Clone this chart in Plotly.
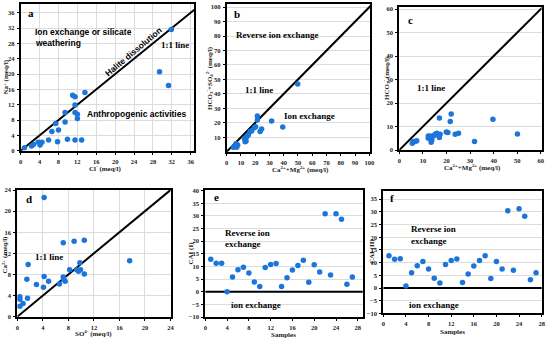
import plotly.graph_objects as go

W, H = 550, 339

# ---------------- data ----------------
a_cl = [0.8, 2.3, 2.7, 3.7, 4.1, 4.5, 5.9, 6.6, 7.4, 8.0, 7.8, 9.4, 9.4, 9.9, 11.0, 11.5, 11.5, 11.5, 12.0, 12.0, 11.5, 12.9, 13.6, 29.4, 31.3, 31.9]
a_na = [0.8, 1.2, 1.65, 2.2, 1.5, 2.2, 2.8, 5.0, 7.1, 5.4, 2.35, 7.5, 10.0, 3.0, 14.5, 14.1, 11.9, 10.0, 9.5, 8.4, 2.8, 2.8, 15.2, 20.6, 17.0, 31.6]

b_cam = [4.7, 5.8, 7.0, 7.7, 6.5, 12.4, 13.6, 12.9, 14.0, 15.2, 16.4, 17.5, 19.4, 20.3, 21.5, 21.5, 23.4, 24.5, 31.5, 39.3, 49.8]
b_hs = [3.0, 3.9, 3.0, 4.6, 5.5, 9.2, 7.4, 6.9, 10.4, 11.5, 13.9, 14.3, 16.6, 17.3, 24.7, 21.9, 13.9, 15.7, 21.2, 17.1, 46.9]

c_cam = [5.5, 5.9, 6.7, 7.4, 12.3, 12.3, 13.3, 13.8, 13.5, 14.5, 15.2, 15.9, 16.3, 17.0, 17.0, 17.3, 19.9, 20.6, 21.6, 22.0, 23.7, 25.1, 31.9, 39.7, 50.1]
c_hco3 = [2.9, 3.6, 3.6, 3.9, 6.0, 5.0, 6.0, 4.3, 3.3, 6.0, 6.7, 7.1, 6.4, 5.3, 13.6, 6.7, 7.7, 7.4, 12.1, 15.3, 6.7, 7.1, 3.6, 13.1, 6.8]

d_so4 = [4.2, 7.2, 8.9, 10.5, 1.7, 17.6, 1.5, 4.2, 4.9, 3.0, 4.1, 6.6, 7.3, 7.5, 7.2, 8.2, 9.3, 9.6, 9.9, 9.8, 10.5, 0.4, 0.4, 1.6, 0.9, 0.4]
d_ca = [22.6, 14.0, 14.3, 14.5, 9.9, 10.6, 7.1, 7.6, 6.7, 6.1, 5.6, 6.2, 7.0, 6.7, 7.5, 8.9, 8.9, 8.6, 8.9, 10.2, 8.1, 3.8, 3.3, 3.5, 2.5, 2.0]

samples = list(range(1, 28))
cai_1 = [12.9, 11.3, 11.3, 0.0, 5.8, 8.7, 9.7, 7.4, 3.9, 2.1, 9.6, 10.8, 11.2, 2.1, 5.5, 8.6, 10.4, 12.5, 3.8, 10.7, 7.8, 30.9, 6.6, 30.9, 28.7, 3.0, 5.8]
cai_2 = [12.7, 11.3, 11.5, 0.8, 6.0, 8.8, 10.4, 7.5, 3.8, 2.0, 9.3, 10.8, 11.4, 2.2, 5.5, 8.7, 10.8, 12.7, 3.7, 10.4, 7.5, 30.4, 7.0, 31.2, 28.3, 3.3, 6.0]

one_to_one = [0, 110]
zero_line_x = [0, 30]
zero_line_y = [0, 0]

# ---------------- layout helpers ----------------
MARK = dict(color="rgb(28,118,218)", size=5.5)
SERIF = "Liberation Serif"
SANS = "Liberation Sans"

def px(x):
    return x / W

def py(y):
    return 1 - y / H

panels = {
    "a": dict(px=(20.7, 194), py=(4.3, 150.7), xr=[0, 36.7], yr=[0, 38.2], xt=4, yt=4, x0t=0, y0t=0, vgrid=True),
    "b": dict(px=(226.7, 370), py=(4.3, 151.7), xr=[0, 100.5], yr=[0, 102], xt=10, yt=10, x0t=0, y0t=10, vgrid=False),
    "c": dict(px=(399.3, 541.5), py=(6.7, 150), xr=[0, 60.3], yr=[0, 61], xt=10, yt=10, x0t=0, y0t=0, vgrid=False),
    "d": dict(px=(17.3, 170.5), py=(190, 316.7), xr=[0, 24], yr=[0, 24], xt=4, yt=4, x0t=0, y0t=0, vgrid=True),
    "e": dict(px=(205.3, 362.7), py=(190.4, 317), xr=[0, 28.9], yr=[-10, 40.1], xt=4, yt=5, x0t=0, y0t=-10, vgrid=False),
    "f": dict(px=(383.3, 541.7), py=(191, 313.4), xr=[0, 28.0], yr=[-10, 38.2], xt=4, yt=5, x0t=0, y0t=-10, vgrid=False),
}

fig = go.Figure()
layout = dict(
    width=W, height=H, margin=dict(l=0, r=0, t=0, b=0, autoexpand=False),
    paper_bgcolor="white", plot_bgcolor="white", showlegend=False,
)

tickfont = dict(family=SERIF, size=6.5, color="#222", weight="bold")
for i, (key, p) in enumerate(panels.items(), start=1):
    xa = "xaxis" if i == 1 else f"xaxis{i}"
    ya = "yaxis" if i == 1 else f"yaxis{i}"
    common = dict(showline=True, linecolor="black", linewidth=2, mirror=True,
                  ticks="outside", ticklen=2, tickcolor="black", tickwidth=1,
                  tickfont=tickfont, zeroline=False, gridcolor="#dcdcdc", gridwidth=1,
                  automargin=False)
    layout[xa] = dict(common, domain=[px(p["px"][0]), px(p["px"][1])], range=p["xr"],
                      anchor=f"y{i if i > 1 else ''}", tick0=p["x0t"], dtick=p["xt"],
                      showgrid=p["vgrid"], ticklabelstandoff=1)
    layout[ya] = dict(common, domain=[py(p["py"][1]), py(p["py"][0])], range=p["yr"],
                      anchor=f"x{i if i > 1 else ''}", tick0=p["y0t"], dtick=p["yt"],
                      showgrid=True, ticklabelstandoff=1)

fig.update_layout(**layout)
fig.update_layout(yaxis2=dict(tickmode="array", tickvals=list(range(10, 101, 10))))
fig.update_layout(yaxis6=dict(tickmode="array", tickvals=list(range(-10, 36, 5))))

def ax(i):
    s = "" if i == 1 else str(i)
    return f"x{s}", f"y{s}"

for i in (1, 2, 3, 4):
    xr, yr = ax(i)
    fig.add_trace(go.Scatter(x=one_to_one, y=one_to_one, mode="lines", xaxis=xr, yaxis=yr,
                             line=dict(color="black", width=2), hoverinfo="skip"))
for i in (5, 6):
    xr, yr = ax(i)
    fig.add_trace(go.Scatter(x=zero_line_x, y=zero_line_y, mode="lines", xaxis=xr, yaxis=yr,
                             line=dict(color="black", width=2), hoverinfo="skip"))

series = [(a_cl, a_na), (b_cam, b_hs), (c_cam, c_hco3), (d_so4, d_ca), (samples, cai_1), (samples, cai_2)]
for i, (xs, ys) in enumerate(series, start=1):
    xr, yr = ax(i)
    fig.add_trace(go.Scatter(x=xs, y=ys, mode="markers", xaxis=xr, yaxis=yr, marker=MARK))

ann = []

def note(i, x, y, text, family=SERIF, size=9, xanchor="left", angle=0, yanchor="middle"):
    xr, yr = ax(i)
    ann.append(dict(x=x, y=y, xref=xr, yref=yr, text=text, showarrow=False, xanchor=xanchor,
                    yanchor=yanchor, textangle=angle,
                    font=dict(family=family, size=size, color="black", weight="bold")))

note(1, 1.2, 36.0, "a", size=11)
note(2, 4.0, 95, "b", size=11)
note(3, 3.0, 55.5, "c", size=11)
note(4, 1.0, 22.3, "d", size=11)
note(5, 1.2, 37.3, "e", size=11)
note(6, 0.8, 35.6, "f", size=11)

note(1, 2.6, 31.0, "Ion exchange or silicate", family=SANS, size=8.5)
note(1, 2.6, 28.0, "weathering", family=SANS, size=8.5)
note(1, 23.8, 25.8, "Halite dissolution", family=SANS, size=8.5, xanchor="center", angle=-40)
note(1, 29.3, 27.6, "1:1 line", size=9)
note(1, 13.7, 9.7, "Anthropogenic activities", family=SANS, size=8.5)
note(2, 5.2, 80.8, "Reverse ion exchange", size=9)
note(2, 11.5, 43, "1:1 line", size=9)
note(2, 39.0, 24.7, "Ion exchange", size=9)
note(3, 6.7, 26.2, "1:1 line", size=9)
note(4, 2.4, 11.3, "1:1 line", size=9)
note(5, 3.2, 23.3, "Reverse ion", size=9)
note(5, 3.2, 18.7, "exchange", size=9)
note(5, 4.4, -5.3, "ion exchange", size=9)
note(6, 4.6, 23.1, "Reverse ion", size=9)
note(6, 4.6, 18.5, "exchange", size=9)
note(6, 4.2, -6.7, "ion exchange", size=9)

def title(xpix, ypix, text, angle=0):
    ann.append(dict(x=px(xpix), y=py(ypix), xref="paper", yref="paper", text=text, showarrow=False,
                    xanchor="center", yanchor="middle", textangle=angle,
                    font=dict(family=SERIF, size=7, color="#222", weight="bold")))

title(105, 168.5, "Cl<sup>-</sup> (meq/l)")
title(5.5, 77, "Na<sup>+</sup> (meq/l)", -90)
title(300, 169, "Ca<sup>2+</sup>+Mg<sup>2+</sup> (meq/l)")
title(209, 78, "HCO<sub>3</sub><sup>-</sup>+SO<sub>4</sub><sup>2-</sup> (meq/l)", -90)
title(472, 167.5, "Ca<sup>2+</sup>+Mg<sup>2+</sup> (meq/l)")
title(386, 78, "HCO<sub>3</sub><sup>-</sup> (meq/l)", -90)
title(93, 333.5, "SO<sup>4-</sup> (meq/l)")
title(5.5, 255, "Ca<sup>2+</sup> (meq/l)", -90)
title(283, 334.5, "Samples")
title(190.5, 253, "CAI (I)", -90)
title(452, 331.5, "Samples")
title(372, 252, "CAI (II)", -90)

fig.update_layout(annotations=ann)
fig.write_html("out.html", config={"displayModeBar": False},
               post_script="document.body.style.margin='0';document.body.style.padding='0';document.body.style.overflow='hidden';")
